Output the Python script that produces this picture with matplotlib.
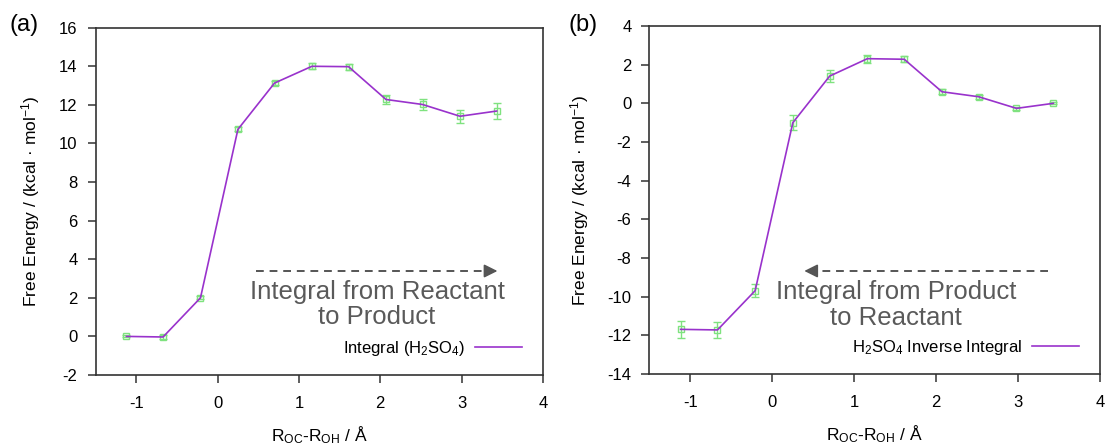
import matplotlib
matplotlib.use("Agg")
import matplotlib.pyplot as plt

plt.rcParams["font.family"] = ["Liberation Sans", "DejaVu Sans"]
plt.rcParams["mathtext.fontset"] = "custom"
plt.rcParams["mathtext.rm"] = "Liberation Sans"
plt.rcParams["mathtext.it"] = "Liberation Sans:italic"

# reaction coordinate (same for both panels)
r_coord = [-1.12, -0.67, -0.21, 0.25, 0.70, 1.16, 1.61, 2.07, 2.52, 2.98, 3.43]

# (a) forward integral
fe_fwd = [0.0, -0.03, 2.0, 10.73, 13.13, 14.0, 13.98, 12.28, 12.02, 11.41, 11.68]
err_fwd = [0.05, 0.08, 0.08, 0.10, 0.10, 0.15, 0.15, 0.25, 0.30, 0.35, 0.42]

# (b) inverse integral
fe_inv = [-11.69, -11.72, -9.69, -1.0, 1.41, 2.31, 2.28, 0.60, 0.34, -0.26, 0.0]
err_inv = [0.45, 0.40, 0.35, 0.40, 0.30, 0.20, 0.15, 0.12, 0.10, 0.08, 0.05]

yticks_a = [16, 14, 12, 10, 8, 6, 4, 2, 0, -2]
yticks_b = [4, 2, 0, -2, -4, -6, -8, -10, -12, -14]
xticks = [-1, 0, 1, 2, 3, 4]

# annotation: (arrow start, arrow end, arrow y, text x, text y)
arrow_a = (0.47, 3.44, 3.39, 1.96, 1.66)
arrow_b = (3.37, 0.39, -8.67, 1.51, -10.42)
text_a = "Integral from Reactant\nto Product"
text_b = "Integral from Product\nto Reactant"

LINE = "#9932cc"
GREEN = "#7fe27f"
AXC = "#333333"

fig = plt.figure(figsize=(11.07, 4.46), dpi=100)
ax_a = fig.add_axes([0.0863, 0.1592, 0.4042, 0.7787])
ax_b = fig.add_axes([0.5867, 0.1614, 0.4070, 0.7803])


def draw_panel(ax, y, err, yticks, label, arrow, note):
    ax.errorbar(r_coord, y, yerr=err, fmt="none", ecolor=GREEN, elinewidth=1,
                capsize=3.2, capthick=1, zorder=2)
    ax.plot(r_coord, y, ls="none", marker="s", ms=4.5, mfc="none", mec=GREEN,
            mew=1, zorder=3)
    ax.plot(r_coord, y, color=LINE, lw=1.2, label=label, zorder=4)

    ax.set_xlim(-1.5, 4)
    ax.set_ylim(min(yticks), max(yticks))
    ax.set_xticks(xticks)
    ax.set_yticks(yticks)
    ax.set_xticklabels([str(t) for t in xticks])
    ax.set_yticklabels([str(t) for t in yticks])
    ax.tick_params(direction="out", length=6, width=1.1, color=AXC,
                   labelsize=12, top=False, right=False)
    ax.tick_params(axis="x", pad=9)
    ax.tick_params(axis="y", pad=7)
    for s in ax.spines.values():
        s.set_color(AXC)
        s.set_linewidth(1.2)

    ax.set_xlabel(r"R$_\mathrm{OC}$-R$_\mathrm{OH}$ / Å", fontsize=12.5,
                  labelpad=10)
    ax.set_ylabel("Free Energy / (kcal · mol$^\\mathrm{-1}$)", fontsize=12.5,
                  labelpad=12)

    x0, x1, ya, tx, ty = arrow
    ax.plot([x0, x1], [ya, ya], ls=(0, (4, 3)), color="#555555", lw=1.4)
    ax.annotate("", xy=(x1, ya), xytext=(x1 - 0.05 * (1 if x1 > x0 else -1), ya),
                arrowprops=dict(arrowstyle="-|>", color="#555555", lw=1.2,
                                mutation_scale=20, shrinkA=0, shrinkB=0))
    ax.text(tx, ty, note, ha="center", va="center", fontsize=18.5,
            color="#5a5a5a", linespacing=1.08)

    ax.legend(loc="lower right", markerfirst=False, frameon=False,
              fontsize=12, handlelength=2.8, handletextpad=0.6,
              borderaxespad=0.2, bbox_to_anchor=(0.975, 0.02))


draw_panel(ax_a, fe_fwd, err_fwd, yticks_a, "Integral (H$_2$SO$_4$)",
           arrow_a, text_a)
draw_panel(ax_b, fe_inv, err_inv, yticks_b, "H$_2$SO$_4$ Inverse Integral",
           arrow_b, text_b)

fig.text(0.009, 0.945, "(a)", fontsize=17, va="center")
fig.text(0.514, 0.945, "(b)", fontsize=17, va="center")

fig.savefig("out.png", dpi=100)
